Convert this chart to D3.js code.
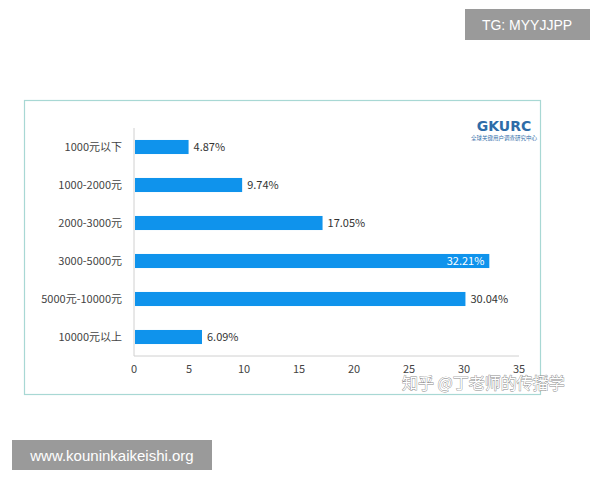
<!DOCTYPE html>
<html><head><meta charset="utf-8">
<script src="https://cdn.jsdelivr.net/npm/d3@7"></script>
<style>body{margin:0;background:#fff;font-family:"Noto Sans CJK SC","Noto Sans",sans-serif}</style>
</head><body><div id="c"></div>
<script>
var categories = ["1000元以下","1000-2000元","2000-3000元","3000-5000元","5000元-10000元","10000元以上"];
var values = [4.87, 9.74, 17.05, 32.21, 30.04, 6.09];
var xTicks = [0,5,10,15,20,25,30,35];

var svg = d3.select("#c").append("svg").attr("width",600).attr("height",480);
svg.append("rect").attr("x",24.5).attr("y",100.5).attr("width",516).attr("height",294)
  .attr("fill","#fff").attr("stroke","#a8d8d4").attr("stroke-width",1.2);

var x = d3.scaleLinear().domain([0,35]).range([134,519]);
var y = d3.scaleBand().domain(categories).range([128,356]).paddingInner(0.63).paddingOuter(0.315);

svg.append("line").attr("x1",134).attr("x2",134).attr("y1",128).attr("y2",356).attr("stroke","#d0d0d0");
svg.append("line").attr("x1",134).attr("x2",519).attr("y1",356).attr("y2",356).attr("stroke","#d0d0d0");

svg.selectAll(".xt").data(xTicks).enter().append("text")
  .attr("x",function(d){return x(d);}).attr("y",373).attr("text-anchor","middle")
  .attr("font-size",11).attr("fill","#444").text(function(d){return d;});

svg.selectAll(".yl").data(categories).enter().append("text")
  .attr("x",122).attr("y",function(d){return y(d)+y.bandwidth()/2+4;}).attr("text-anchor","end")
  .attr("font-size",11).attr("fill","#444").text(function(d){return d;});

svg.selectAll(".bar").data(values).enter().append("rect")
  .attr("x",x(0)+1).attr("y",function(d,i){return y(categories[i]);})
  .attr("width",function(d){return x(d)-x(0);}).attr("height",y.bandwidth())
  .attr("fill","#0f93ec");

svg.selectAll(".vl").data(values).enter().append("text")
  .attr("x",function(d,i){return i===3 ? x(d)-4 : x(d)+6;})
  .attr("y",function(d,i){return y(categories[i])+y.bandwidth()/2+4;})
  .attr("text-anchor",function(d,i){return i===3?"end":"start";})
  .attr("font-size",11).attr("fill",function(d,i){return i===3?"#fff":"#333";})
  .text(function(d){return d.toFixed(2)+"%";});

// logo
svg.append("text").attr("x",504).attr("y",131).attr("text-anchor","middle").attr("font-size",14)
  .attr("font-weight","bold").attr("fill","#2e6ca8").attr("font-family","DejaVu Sans").text("GKURC");
svg.append("text").attr("x",504).attr("y",140).attr("text-anchor","middle").attr("font-size",5.5)
  .attr("fill","#2e6ca8").text("全球关键用户调查研究中心");

// watermarks
svg.append("rect").attr("x",465).attr("y",9).attr("width",125).attr("height",31).attr("fill","#9a9a9a");
svg.append("text").attr("x",527).attr("y",30).attr("text-anchor","middle").attr("font-size",14)
  .attr("fill","#fff").attr("font-family","Liberation Sans").text("TG: MYYJJPP");
svg.append("rect").attr("x",12).attr("y",440).attr("width",200).attr("height",30).attr("fill","#9a9a9a");
svg.append("text").attr("x",112).attr("y",461).attr("text-anchor","middle").attr("font-size",15)
  .attr("fill","#fff").attr("font-family","Liberation Sans").text("www.kouninkaikeishi.org");
svg.append("text").attr("x",402).attr("y",389).attr("font-size",16).attr("fill","#fff")
  .attr("stroke","#888").attr("stroke-width",0.8).attr("paint-order","stroke").text("知乎 @丁老师的传播学");
</script></body></html>
